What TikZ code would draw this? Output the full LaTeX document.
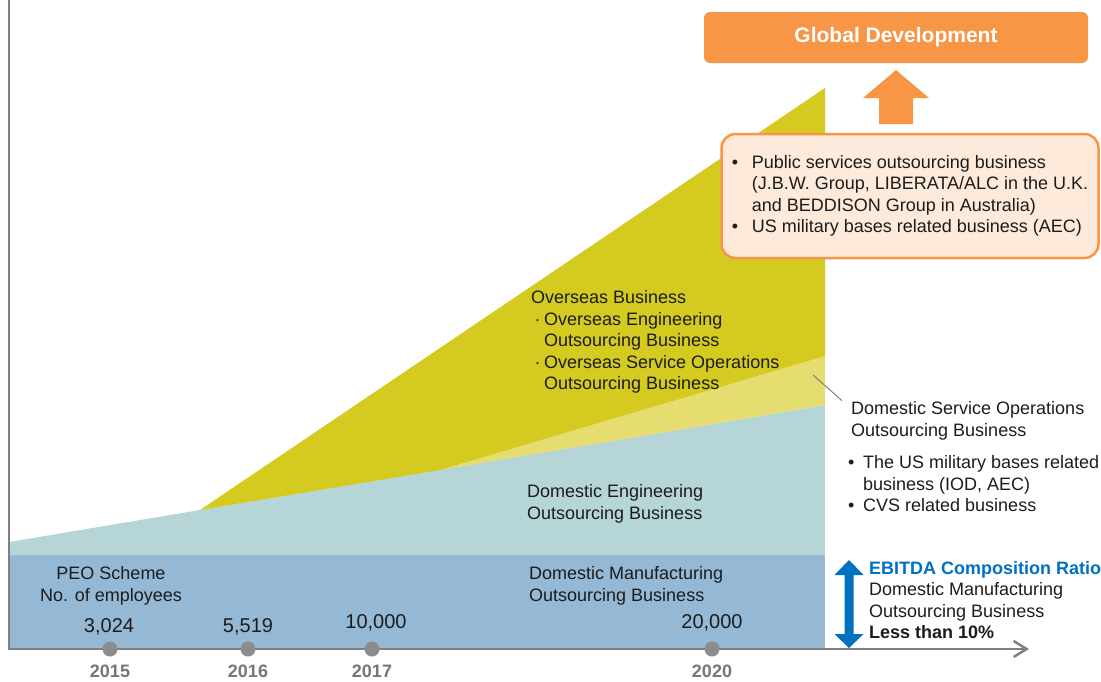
\documentclass[tikz,border=0pt]{standalone}
\usepackage{fontspec}
\setmainfont{Liberation Sans}
\usetikzlibrary{arrows.meta}

\definecolor{yellowD}{RGB}{213,202,32}
\definecolor{yellowL}{RGB}{230,221,112}
\definecolor{tealband}{RGB}{182,213,214}
\definecolor{blueband}{RGB}{149,185,213}
\definecolor{orangeG}{RGB}{247,150,70}
\definecolor{peach}{RGB}{253,234,218}
\definecolor{ratioblue}{RGB}{0,112,192}
\definecolor{axisgray}{RGB}{128,128,128}
\definecolor{dotgray}{RGB}{140,140,140}
\definecolor{yeargray}{RGB}{118,118,118}
\definecolor{txtcol}{RGB}{28,28,28}

\begin{document}
\begin{tikzpicture}[x=1pt,y=-1pt,
  body/.style={inner sep=0pt, align=left, anchor=west, text=txtcol,
    font=\fontsize{18}{21.5}\selectfont},
  bodyc/.style={body, align=center, anchor=center},
  count/.style={inner sep=0pt, text=txtcol, font=\fontsize{20}{24}\selectfont},
  year/.style={inner sep=0pt, text=yeargray, font=\fontsize{18}{22}\selectfont\bfseries},
  dot/.style={circle, fill=dotgray, inner sep=0pt, minimum size=15pt},
  axis/.style={draw=axisgray, line width=2.5pt},
]
\useasboundingbox (0,0) rectangle (1101,681);

% stacked business areas
\fill[blueband] (9,555) -- (825,555) -- (825,649) -- (9,649) -- cycle;
\fill[tealband] (9,542) -- (200,510) -- (825,405) -- (825,555) -- (9,555) -- cycle;
\fill[yellowL] (440,470) -- (825,356) -- (825,405) -- cycle;
\fill[yellowD] (200,510) -- (825,88) -- (825,356) -- (440,470) -- cycle;

% axes
\coordinate (ytop) at (9,0);
\coordinate (orig) at (9,649);
\coordinate (xend) at (1029,649);
\draw[axis, -{Straight Barb[length=13pt,width=16pt]}] (ytop) -- (orig) -- (xend);

% year markers
\node[dot] (d15) at (110,649) {};
\node[dot] (d16) at (248,649) {};
\node[dot] (d17) at (372,649) {};
\node[dot] (d20) at (712,649) {};
\node[year] (y15) at (110,671) {2015};
\node[year] (y16) at (248,671) {2016};
\node[year] (y17) at (372,671) {2017};
\node[year] (y20) at (712,671) {2020};

% employee counts
\node[count] (n15) at (109,627) {3,024};
\node[count] (n16) at (248,627) {5,519};
\node[count] (n17) at (376,623) {10,000};
\node[count] (n20) at (712,623) {20,000};
\node[bodyc] (peo) at (111,586) {PEO Scheme\\No. of employees};

% area labels
\node[body] (manu) at (529,586) {Domestic Manufacturing\\Outsourcing Business};
\node[body] (eng) at (527,504) {Domestic Engineering\\Outsourcing Business};
\node[body] (ovs) at (531,342) {Overseas Business\\
  \makebox[13pt][c]{·}Overseas Engineering\\
  \hspace*{13pt}Outsourcing Business\\
  \makebox[13pt][c]{·}Overseas Service Operations\\
  \hspace*{13pt}Outsourcing Business};

% domestic service operations callout
\node[body] (dso) at (851,421) {Domestic Service Operations\\Outsourcing Business};
\node[body] (dsob) at (848,484) {\makebox[15pt][l]{•}The US military bases related\\
  \hspace*{15pt}business (IOD, AEC)\\
  \makebox[15pt][l]{•}CVS related business};
\coordinate (lead) at (813,375);
\draw[axisgray, line width=1pt] (lead) -- ([xshift=-9pt,yshift=1pt]dso.north west);

% EBITDA ratio
\fill[ratioblue] (849,560) -- (863.5,575) -- (853.5,575) -- (853.5,634) -- (863.5,634)
  -- (849,648) -- (834.5,634) -- (844.5,634) -- (844.5,575) -- (834.5,575) -- cycle;
\node[body] (ebitda) at (869,600) {\textcolor{ratioblue}{\bfseries EBITDA Composition Ratio}\\
  Domestic Manufacturing\\Outsourcing Business\\\textbf{Less than 10\%}};

% global development
\node[fill=peach, draw=orangeG, line width=2.5pt, rounded corners=14pt,
  minimum width=377pt, minimum height=124pt, align=left, text=txtcol,
  font=\fontsize{18}{21.5}\selectfont] (intl) at (910,196)
  {\makebox[20pt][l]{•}Public services outsourcing business\\
   \hspace*{20pt}(J.B.W. Group, LIBERATA/ALC in the U.K.\\
   \hspace*{20pt}and BEDDISON Group in Australia)\\
   \makebox[20pt][l]{•}US military bases related business (AEC)};
\fill[orangeG] (896,70) -- (929,98) -- (913,98) -- (913,124) -- (879,124)
  -- (879,98) -- (863,98) -- cycle;
\node[fill=orangeG, rounded corners=6pt, minimum width=384pt, minimum height=51pt,
  text=white, font=\fontsize{21}{25}\selectfont\bfseries] (glob) at (896,37.5)
  {Global Development};
\end{tikzpicture}
\end{document}
